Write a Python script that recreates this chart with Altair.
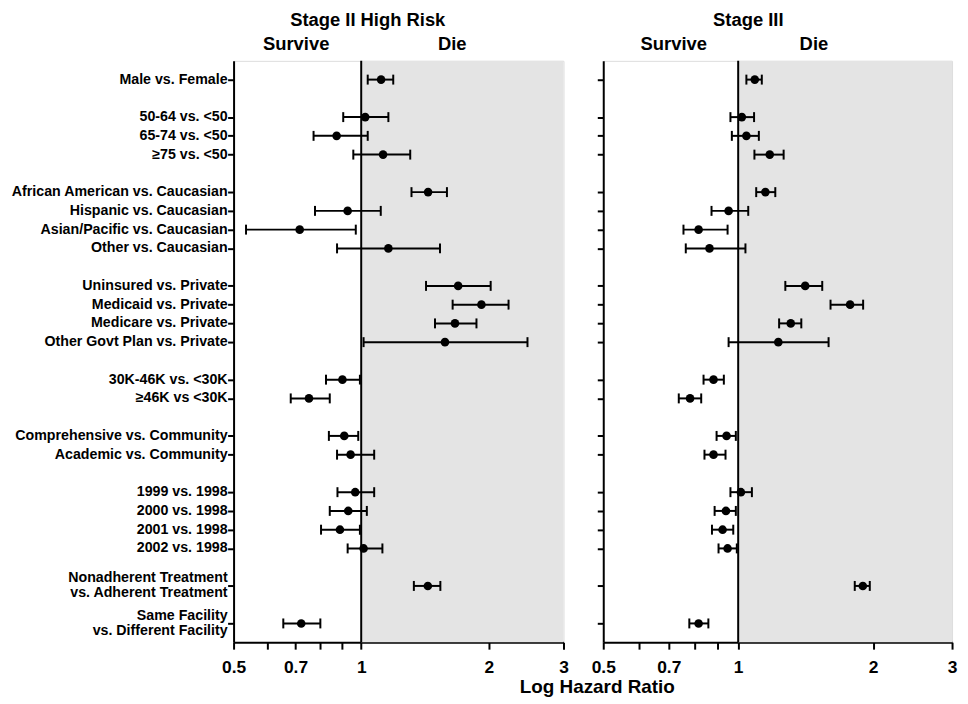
import altair as alt
import pandas as pd

FONT = "Liberation Sans"

labels = [
    "Male vs. Female",
    "50-64 vs. <50", "65-74 vs. <50", "≥75 vs. <50",
    "African American vs. Caucasian", "Hispanic vs. Caucasian",
    "Asian/Pacific vs. Caucasian", "Other vs. Caucasian",
    "Uninsured vs. Private", "Medicaid vs. Private", "Medicare vs. Private",
    "Other Govt Plan vs. Private",
    "30K-46K vs. <30K", "≥46K vs <30K",
    "Comprehensive vs. Community", "Academic vs. Community",
    "1999 vs. 1998", "2000 vs. 1998", "2001 vs. 1998", "2002 vs. 1998",
    "Nonadherent Treatment\nvs. Adherent Treatment",
    "Same Facility\nvs. Different Facility",
]
rows = [1, 3, 4, 5, 7, 8, 9, 10, 12, 13, 14, 15, 17, 18, 20, 21, 23, 24, 25, 26, 28, 30]

s2_hr = [1.114, 1.022, 0.875, 1.126, 1.438, 0.929, 0.716, 1.159, 1.693, 1.921, 1.664, 1.576,
         0.903, 0.753, 0.912, 0.944, 0.968, 0.932, 0.891, 1.013, 1.436, 0.722]
s2_lo = [1.036, 0.907, 0.772, 0.958, 1.314, 0.778, 0.535, 0.877, 1.422, 1.643, 1.493, 1.013,
         0.826, 0.682, 0.839, 0.877, 0.879, 0.843, 0.804, 0.929, 1.331, 0.655]
s2_hi = [1.190, 1.159, 1.036, 1.305, 1.593, 1.112, 0.971, 1.534, 2.020, 2.226, 1.870, 2.467,
         0.993, 0.843, 0.984, 1.073, 1.073, 1.031, 0.993, 1.122, 1.537, 0.801]

s3_hr = [1.089, 1.019, 1.043, 1.176, 1.150, 0.952, 0.816, 0.863, 1.411, 1.777, 1.310, 1.229,
         0.881, 0.781, 0.942, 0.881, 1.014, 0.939, 0.923, 0.947, 1.897, 0.816]
s3_lo = [1.043, 0.961, 0.968, 1.087, 1.097, 0.872, 0.755, 0.764, 1.274, 1.607, 1.234, 0.952,
         0.837, 0.737, 0.895, 0.841, 0.961, 0.886, 0.874, 0.904, 1.820, 0.778]
s3_hi = [1.129, 1.085, 1.112, 1.263, 1.210, 1.053, 0.947, 1.038, 1.540, 1.900, 1.383, 1.591,
         0.929, 0.827, 0.988, 0.937, 1.073, 0.988, 0.975, 0.993, 1.966, 0.858]

x_ticks = [0.5, 0.6, 0.7, 0.8, 0.9, 1, 2, 3]
x_tick_labels = ["0.5", "", "0.7", "", "", "1", "2", "3"]
shade_lo = [1]
shade_hi = [3]
ref_x = [1]
side_labels = ["Survive", "Die"]
panel_titles = ["Stage II High Risk", "Stage III"]
x_title = "Log Hazard Ratio"

label_expr = "[" + ",".join(f"'{l}'" for l in x_tick_labels) + "][indexof([" + \
    ",".join(str(t) for t in x_ticks) + "], datum.value)]"

xs = alt.Scale(type="log", domain=[0.5, 3], nice=False)
ys = alt.Scale(domain=[0, 31], reverse=True, nice=False, zero=False)

x_axis = alt.Axis(values=x_ticks, labelExpr=label_expr, title=None, grid=False,
                  domainColor="black", domainWidth=2, tickColor="black", tickWidth=2,
                  tickSize=7, labelFont=FONT, labelFontWeight="bold", labelFontSize=17.5,
                  labelColor="black", labelPadding=10, labelFlush=False, labelOverlap=False)
y_axis = alt.Axis(values=rows, labels=False, title=None, grid=False,
                  domainColor="black", domainWidth=2, tickColor="black", tickWidth=2,
                  tickSize=6)


def panel(hr, lo, hi, width, title, title_x, surv_x, die_x, with_labels, with_xtitle):
    df = pd.DataFrame({"row": rows, "label": labels, "hr": hr, "lo": lo, "hi": hi})
    base = alt.Chart(df)
    X = lambda f: alt.X(f, scale=xs, axis=x_axis)
    Y = alt.Y("row:Q", scale=ys, axis=y_axis)

    shade = alt.Chart(pd.DataFrame({"a": shade_lo, "b": shade_hi})).mark_rect(
        color="#e4e4e4").encode(x=X("a:Q"), x2="b:Q")
    ref = alt.Chart(pd.DataFrame({"r": ref_x})).mark_rule(
        color="black", strokeWidth=2).encode(x=X("r:Q"))
    bars = base.mark_rule(color="black", strokeWidth=2).encode(x=X("lo:Q"), x2="hi:Q", y=Y)
    cap_lo = base.mark_tick(orient="vertical", color="black", thickness=2, size=10,
                            opacity=1).encode(x=X("lo:Q"), y=Y)
    cap_hi = base.mark_tick(orient="vertical", color="black", thickness=2, size=10,
                            opacity=1).encode(x=X("hi:Q"), y=Y)
    pts = base.mark_circle(color="black", size=75, opacity=1).encode(x=X("hr:Q"), y=Y)

    ttl = alt.Chart(pd.DataFrame({"t": [title]})).mark_text(
        font=FONT, fontWeight="bold", fontSize=18.5, baseline="middle", align="center",
        color="black").encode(text="t:N", x=alt.value(title_x), y=alt.value(-41))
    side = alt.Chart(pd.DataFrame({"t": side_labels, "px": [surv_x, die_x]})).mark_text(
        font=FONT, fontWeight="bold", fontSize=18.5, baseline="middle", align="center",
        color="black").encode(text="t:N", x=alt.X("px:Q", scale=None), y=alt.value(-17))

    layers = [shade, ref, bars, cap_lo, cap_hi, pts, ttl, side]
    if with_labels:
        lab_kw = dict(font=FONT, fontWeight="bold", fontSize=14.3, align="right",
                      baseline="middle", lineBreak="\n", color="black", lineHeight=15)
        lab1 = base.transform_filter("indexof(datum.label, '\\n') < 0").mark_text(
            **lab_kw).encode(text="label:N", y=Y, x=alt.value(-6))
        lab2 = base.transform_filter("indexof(datum.label, '\\n') >= 0").mark_text(
            dy=-7.5, **lab_kw).encode(text="label:N", y=Y, x=alt.value(-6))
        layers += [lab1, lab2]
    if with_xtitle:
        xt = alt.Chart(pd.DataFrame({"t": [x_title]})).mark_text(
            font=FONT, fontWeight="bold", fontSize=19, baseline="middle", align="center",
            color="black").encode(text="t:N", x=alt.value(-6), y=alt.value(630))
        layers.append(xt)
    return alt.layer(*layers).properties(width=width, height=585)


p1 = panel(s2_hr, s2_lo, s2_hi, 332, panel_titles[0], 135, 63, 220, True, False)
p2 = panel(s3_hr, s3_lo, s3_hi, 351, panel_titles[1], 146, 71, 212, False, True)

chart = alt.hconcat(p1, p2, spacing=40, bounds="flush").properties(
    padding={"left": 2, "top": 0, "right": 2, "bottom": 2}
).configure_view(stroke=None).configure(background="white")

chart.save("out.html", embed_options={"renderer": "svg", "actions": False})
